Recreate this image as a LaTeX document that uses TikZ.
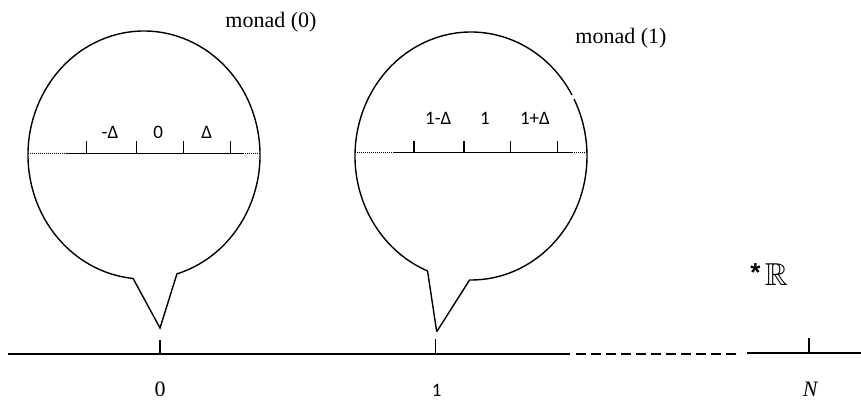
\documentclass[tikz,border=0pt]{standalone}
\usepackage{amsmath,amssymb}
\usepackage{fontspec}
\setmainfont{Liberation Serif}
\newfontfamily\calfont{Carlito}
\newfontfamily\starfont{Liberation Sans}
\usetikzlibrary{positioning}

\begin{document}
\begin{tikzpicture}[x=1pt,y=1pt,line width=1.4pt,
  lbl/.style={font=\fontsize{22}{25}\selectfont,inner sep=0pt},
  inlbl/.style={font=\calfont\fontsize{19}{22}\selectfont,inner sep=0pt},
  dots/.style={densely dotted,line width=1pt}]
\useasboundingbox (0,0) rectangle (861,400);
% bubbles
\coordinate (c0) at (144,245);
\coordinate (tip0) at (160,72);
\draw (tip0) -- ([shift={(-73.5:116 and 124)}]c0) arc[start angle=-73.5,end angle=264.6,x radius=116,y radius=124] -- cycle;
\coordinate (c1) at (471,244);
\coordinate (tip1) at (436.7,68.3);
\draw (tip1) -- ([shift={(-90.7:116 and 124)}]c1) arc[start angle=-90.7,end angle=27.3,x radius=116,y radius=124]
  ([shift={(29.5:116 and 124)}]c1) arc[start angle=29.5,end angle=248,x radius=116,y radius=124] -- (tip1);
\node[lbl] (m0) at (271,378) {monad (0)};
\node[lbl] (m1) at (621,362) {monad (1)};
% scale inside monad (0)
\coordinate (e0l) at (28,246.7); \coordinate (s0l) at (67,246.7);
\coordinate (s0r) at (243,246.7); \coordinate (e0r) at (260,246.7);
\draw[dots] (e0l) -- (s0l);
\draw (s0l) -- (s0r);
\draw[dots] (s0r) -- (e0r);
\foreach \x in {86.7,136.7,183.3,230.7} \draw (\x,246.7) -- ++(0,12);
\node[inlbl] (a0) at (110,268) {-Δ};
\node[inlbl] (b0) at (158.3,268) {0};
\node[inlbl] (d0) at (206.7,268) {Δ};
% scale inside monad (1)
\coordinate (e1l) at (355,247.3); \coordinate (s1l) at (393,247.3);
\coordinate (s1r) at (572,247.3); \coordinate (e1r) at (587,247.3);
\draw[dots] (e1l) -- (s1l);
\draw (s1l) -- (s1r);
\draw[dots] (s1r) -- (e1r);
\foreach \x in {414,464,510.7,557.3} \draw (\x,247.3) -- ++(0,12);
\node[inlbl] (a1) at (438.3,282) {1-Δ};
\node[inlbl] (b1) at (485,282) {1};
\node[inlbl] (d1) at (535,282) {1+Δ};
% hyperreal line
\coordinate (L) at (8,46); \coordinate (P) at (570,46);
\coordinate (Q) at (576,46); \coordinate (S) at (741,46);
\coordinate (T) at (747,47); \coordinate (R) at (861,47);
\draw (L) -- (P);
\draw[dash pattern=on 10pt off 5pt] (Q) -- (S);
\draw (T) -- (R);
\draw (160,46) -- ++(0,14.5);
\draw (435.7,46) -- ++(0,15);
\draw (809,47) -- ++(0,15);
\node[lbl] (z) at (160,11) {0};
\node[inlbl] (o) at (436.7,10) {1};
\node[lbl] (n) at (810.7,11) {\textit{N}};
\node[inner sep=0pt] (hr) at (769,125) {\starfont\bfseries\fontsize{26}{28}\selectfont\raisebox{4pt}{*}\,\fontsize{24}{28}\selectfont\scalebox{1.32}{$\mathbb{R}$}};
\end{tikzpicture}
\end{document}
